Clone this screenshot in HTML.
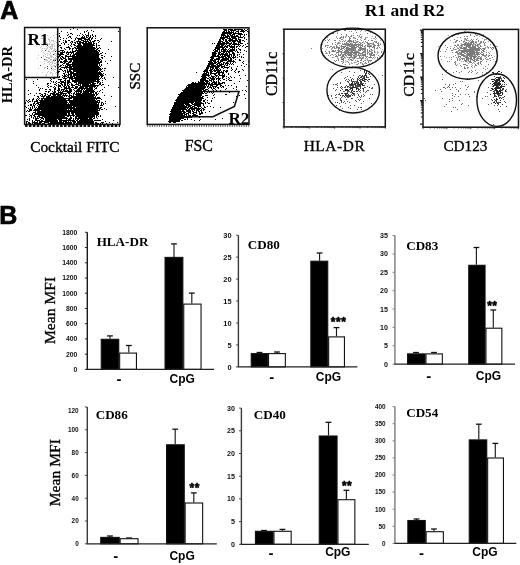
<!DOCTYPE html>
<html><head><meta charset="utf-8"><title>Figure</title>
<style>html,body{margin:0;padding:0;background:#fff;} svg{display:block;}</style>
</head><body>
<svg width="520" height="565" viewBox="0 0 520 565">
<rect width="520" height="565" fill="#fff"/>
<path d="M73 28h1M70 29h1M77 29h1M87 30h1M91 30h1M61 31h1M84 31h1M86 31h1M93 31h1M118 31h1M67 32h1M84 32h1M88 32h1M59 33h1M70 33h2M80 33h1M88 33h1M68 34h1M72 34h1M82 34h1M85 34h1M88 34h1M92 34h1M59 35h1M67 35h1M77 35h1M79 35h1M83 35h1M86 35h3M90 35h1M92 35h1M95 35h1M59 36h1M69 36h2M82 36h1M84 36h1M86 36h1M88 36h1M90 36h1M93 36h1M95 36h1M60 37h1M68 37h1M70 37h1M76 37h1M81 37h4M86 37h2M89 37h2M92 37h1M63 38h1M66 38h1M71 38h1M75 38h1M77 38h9M88 38h2M91 38h2M95 38h1M101 38h1M60 39h1M75 39h1M78 39h4M84 39h6M91 39h1M100 39h1M63 40h1M65 40h1M68 40h2M74 40h1M78 40h1M81 40h3M85 40h1M87 40h1M89 40h2M94 40h2M97 40h2M59 41h1M65 41h2M71 41h2M76 41h5M83 41h6M90 41h1M92 41h3M99 41h1M111 41h1M63 42h1M65 42h2M70 42h1M72 42h1M74 42h2M77 42h1M79 42h5M85 42h2M88 42h4M93 42h1M98 42h1M61 43h1M64 43h1M71 43h1M75 43h1M77 43h4M82 43h10M93 43h2M96 43h1M58 44h1M64 44h1M68 44h1M71 44h1M73 44h2M78 44h3M83 44h11M96 44h1M59 45h2M70 45h1M74 45h2M77 45h5M83 45h12M96 45h1M98 45h2M58 46h1M68 46h1M71 46h1M76 46h17M96 46h1M60 47h2M66 47h4M74 47h2M77 47h18M96 47h1M99 47h1M61 48h1M64 48h1M69 48h2M72 48h2M75 48h21M97 48h2M100 48h1M65 49h1M69 49h1M72 49h1M76 49h1M78 49h17M96 49h2M108 49h1M60 50h4M72 50h1M75 50h22M98 50h2M55 51h1M58 51h2M62 51h1M64 51h1M67 51h1M70 51h1M72 51h4M77 51h21M99 51h1M60 52h5M66 52h8M76 52h23M102 52h1M58 53h1M60 53h3M66 53h1M68 53h1M71 53h1M73 53h1M75 53h24M100 53h2M105 53h1M58 54h6M67 54h2M70 54h1M73 54h27M59 55h2M65 55h2M70 55h1M72 55h3M76 55h23M101 55h2M58 56h2M61 56h2M65 56h34M104 56h1M111 56h1M58 57h1M60 57h1M62 57h2M65 57h1M68 57h1M72 57h27M101 57h2M60 58h2M63 58h3M68 58h32M102 58h1M59 59h1M61 59h2M65 59h2M68 59h33M55 60h1M59 60h1M64 60h3M70 60h2M73 60h27M101 60h1M110 60h1M58 61h1M60 61h2M63 61h5M69 61h3M73 61h26M100 61h2M105 61h1M60 62h3M64 62h2M68 62h3M72 62h30M63 63h2M66 63h3M72 63h28M107 63h1M58 64h1M62 64h1M66 64h32M99 64h1M101 64h1M60 65h2M63 65h1M65 65h1M67 65h4M72 65h26M99 65h1M101 65h1M59 66h2M65 66h3M69 66h30M100 66h1M58 67h1M61 67h11M73 67h27M60 68h1M64 68h1M66 68h1M69 68h32M102 68h1M104 68h2M59 69h3M67 69h1M69 69h33M62 70h1M64 70h2M67 70h1M69 70h2M73 70h26M100 70h1M104 70h1M58 71h2M63 71h1M65 71h1M67 71h5M73 71h25M99 71h1M101 71h2M58 72h1M65 72h1M67 72h2M70 72h4M76 72h25M63 73h2M68 73h1M70 73h32M103 73h1M64 74h1M66 74h1M68 74h4M73 74h30M105 74h1M62 75h1M64 75h2M67 75h2M70 75h2M73 75h26M100 75h4M59 76h1M63 76h4M68 76h1M70 76h5M76 76h24M101 76h2M46 77h1M58 77h2M62 77h1M64 77h1M67 77h6M74 77h25M101 77h1M104 77h1M113 77h1M50 78h1M53 78h2M63 78h4M69 78h30M100 78h1M102 78h1M104 78h1M26 79h1M37 79h1M51 79h1M58 79h4M65 79h1M69 79h1M71 79h2M75 79h25M105 79h1M50 80h1M60 80h1M64 80h2M67 80h3M72 80h24M97 80h2M102 80h1M33 81h1M51 81h1M53 81h1M56 81h1M60 81h4M65 81h1M67 81h3M72 81h28M53 82h1M55 82h1M58 82h2M61 82h5M67 82h4M74 82h3M78 82h16M97 82h2M100 82h1M102 82h1M33 83h1M47 83h2M50 83h1M56 83h1M60 83h2M64 83h2M67 83h2M71 83h1M76 83h1M78 83h13M92 83h4M97 83h1M99 83h2M47 84h1M54 84h2M58 84h1M61 84h2M64 84h2M67 84h1M69 84h1M71 84h2M75 84h4M80 84h1M82 84h7M90 84h5M99 84h2M102 84h2M36 85h1M48 85h1M56 85h1M58 85h3M62 85h1M64 85h2M67 85h2M71 85h4M78 85h3M82 85h17M101 85h1M108 85h1M47 86h1M50 86h2M54 86h1M58 86h3M63 86h2M66 86h1M68 86h2M72 86h1M75 86h3M80 86h16M97 86h1M38 87h1M48 87h1M53 87h1M55 87h1M58 87h1M61 87h1M64 87h3M68 87h2M71 87h3M75 87h3M79 87h5M85 87h3M89 87h4M94 87h1M96 87h1M104 87h1M118 87h1M40 88h1M42 88h1M54 88h2M58 88h2M64 88h7M74 88h3M78 88h15M95 88h2M39 89h1M45 89h2M49 89h2M54 89h2M58 89h2M61 89h4M66 89h1M69 89h3M73 89h1M77 89h3M81 89h2M84 89h1M86 89h7M94 89h1M102 89h1M28 90h1M39 90h1M50 90h1M54 90h1M57 90h3M61 90h1M63 90h1M65 90h3M69 90h3M74 90h1M76 90h6M83 90h1M85 90h9M100 90h1M45 91h2M48 91h2M52 91h1M54 91h2M58 91h1M60 91h1M62 91h10M75 91h7M83 91h12M97 91h1M99 91h1M48 92h1M53 92h3M58 92h5M67 92h4M74 92h1M76 92h1M78 92h1M80 92h2M83 92h6M90 92h4M95 92h2M102 92h1M30 93h1M36 93h1M39 93h2M44 93h2M50 93h5M56 93h3M60 93h7M68 93h2M71 93h1M73 93h2M76 93h5M82 93h10M93 93h1M95 93h2M98 93h1M28 94h1M41 94h2M45 94h1M47 94h1M50 94h1M52 94h10M63 94h1M65 94h1M69 94h1M73 94h1M75 94h20M96 94h2M34 95h1M40 95h1M42 95h1M44 95h2M48 95h3M53 95h3M57 95h4M62 95h6M69 95h3M73 95h1M76 95h19M96 95h1M104 95h1M37 96h2M41 96h4M46 96h4M51 96h12M64 96h1M66 96h1M68 96h2M71 96h23M95 96h1M111 96h1M38 97h1M43 97h1M46 97h18M69 97h27M97 97h3M33 98h1M37 98h1M39 98h1M41 98h31M73 98h28M29 99h1M32 99h2M36 99h1M38 99h1M41 99h2M44 99h22M68 99h2M73 99h22M96 99h1M101 99h1M26 100h1M28 100h1M32 100h1M36 100h2M39 100h57M97 100h3M27 101h1M29 101h2M32 101h1M34 101h4M40 101h27M69 101h29M99 101h1M105 101h1M25 102h1M28 102h1M34 102h1M37 102h31M69 102h31M101 102h2M25 103h1M33 103h2M36 103h3M40 103h27M68 103h1M70 103h27M98 103h1M101 103h1M103 103h1M105 103h1M30 104h2M33 104h1M35 104h1M38 104h61M101 104h1M103 104h1M28 105h1M30 105h2M33 105h2M37 105h1M39 105h60M100 105h3M25 106h1M32 106h1M34 106h1M38 106h34M73 106h26M115 106h1M26 107h1M30 107h1M32 107h1M34 107h1M36 107h1M38 107h37M76 107h23M100 107h2M28 108h1M30 108h1M32 108h1M35 108h1M37 108h64M104 108h1M29 109h3M34 109h33M68 109h1M70 109h2M73 109h25M99 109h1M101 109h2M106 109h1M27 110h1M29 110h3M33 110h7M41 110h59M26 111h1M28 111h2M35 111h1M37 111h61M33 112h3M37 112h33M71 112h28M32 113h1M35 113h32M68 113h2M71 113h3M75 113h24M29 114h1M32 114h1M34 114h33M68 114h2M72 114h2M75 114h24M25 115h2M30 115h2M33 115h2M38 115h37M76 115h19M96 115h2M100 115h1M29 116h1M31 116h1M34 116h2M37 116h3M42 116h23M67 116h2M70 116h1M73 116h1M75 116h20M96 116h1M98 116h1M100 116h1M31 117h1M33 117h1M35 117h1M37 117h1M39 117h4M44 117h23M70 117h2M75 117h2M78 117h15M94 117h1M96 117h1M29 118h1M33 118h1M35 118h4M41 118h3M45 118h23M69 118h3M73 118h1M75 118h13M89 118h3M93 118h2M97 118h1M27 119h1M29 119h1M35 119h2M40 119h1M43 119h1M45 119h12M58 119h4M66 119h1M68 119h3M73 119h1M75 119h1M77 119h2M80 119h13M102 119h1M29 120h1M32 120h1M35 120h5M41 120h2M45 120h13M59 120h16M76 120h2M79 120h14M94 120h7M113 120h1M26 121h2M32 121h1M34 121h1M37 121h1M39 121h19M59 121h3M63 121h4M68 121h1M70 121h1M72 121h4M77 121h17M105 121h1M26 122h1M28 122h2M32 122h6M39 122h3M44 122h5M50 122h14M65 122h7M73 122h3M77 122h17M95 122h2M101 122h3M109 122h1M117 122h1M26 123h1M28 123h3M32 123h1M34 123h7M42 123h3M48 123h24M73 123h2M76 123h18M95 123h4M100 123h1M102 123h1M106 123h1M112 123h1" stroke="#000" stroke-width="1" fill="none" transform="translate(0 0.5)"/>
<path d="M47 45h1M45 50h1M53 54h1M41 57h1M44 59h1M53 60h1M40 65h1M47 66h1M55 66h1M47 68h1M51 68h1" stroke="#333" stroke-width="1" fill="none" transform="translate(0 0.5)"/>
<path d="M42 29h1M56 34h1M47 35h1M53 35h1M45 36h1M50 37h1M54 37h1M41 38h2M48 38h1M48 39h2M49 40h1M51 40h3M49 41h1M53 41h1M55 41h1M46 42h1M50 42h1M56 42h1M46 43h2M49 43h1M54 43h1M48 44h2M51 44h3M39 45h1M43 45h1M51 45h2M54 45h1M36 46h1M41 46h1M46 46h1M48 46h1M50 46h3M54 46h1M40 47h1M47 47h1M49 47h2M52 47h1M42 48h1M44 48h1M46 48h2M50 48h3M54 48h1M41 49h1M46 49h1M49 49h1M51 49h1M54 49h2M42 50h1M48 50h1M53 50h2M56 50h1M41 51h1M48 51h2M52 51h2M43 52h1M50 52h1M44 53h1M47 53h1M50 53h1M54 53h2M45 54h1M49 54h1M54 54h1M56 54h1M38 55h1M43 55h1M47 55h1M50 55h2M55 55h1M43 56h1M45 56h1M50 56h3M56 56h1M46 57h4M51 57h1M53 57h1M55 57h1M37 58h1M48 58h2M54 58h3M45 59h2M50 59h2M53 59h4M45 60h3M50 60h1M54 60h1M44 61h1M48 61h2M52 61h1M54 61h1M47 62h2M50 62h3M56 62h1M44 63h1M49 63h1M52 63h1M54 63h2M43 64h1M49 64h1M51 64h1M56 64h1M50 65h1M53 65h2M56 65h1M51 66h2M54 66h1M44 67h2M51 67h1M55 67h1M38 68h1M44 68h1M53 68h1M49 69h1M52 69h1M54 69h2M51 70h1M53 70h1M48 71h1M54 71h1M42 72h1M47 72h1M50 72h2M56 72h1M50 73h1M52 73h1M55 73h1M46 74h1M52 74h1M45 75h2M52 75h1M54 76h1" stroke="#c4c4c4" stroke-width="1" fill="none" transform="translate(0 0.5)"/>
<path d="M223 29h4M228 29h5M234 29h9M244 29h1M247 29h1M224 30h3M228 30h1M230 30h6M238 30h1M241 30h3M245 30h2M223 31h2M226 31h1M228 31h2M231 31h1M233 31h1M236 31h3M240 31h5M247 31h2M222 32h12M235 32h1M238 32h1M243 32h1M248 32h1M222 33h10M233 33h9M248 33h1M221 34h4M227 34h1M229 34h2M232 34h3M238 34h5M244 34h1M246 34h1M221 35h5M227 35h2M230 35h3M234 35h1M236 35h2M240 35h1M244 35h1M248 35h1M221 36h1M223 36h1M225 36h5M231 36h8M240 36h1M243 36h1M248 36h1M220 37h8M229 37h1M231 37h5M238 37h5M244 37h1M220 38h5M227 38h4M232 38h5M238 38h1M244 38h1M219 39h2M222 39h2M225 39h2M229 39h4M235 39h2M238 39h3M246 39h1M219 40h2M223 40h1M225 40h2M228 40h10M239 40h2M242 40h2M218 41h5M225 41h3M229 41h2M232 41h4M237 41h4M244 41h1M218 42h3M222 42h3M226 42h3M231 42h1M233 42h2M238 42h3M212 43h1M214 43h1M217 43h15M233 43h4M238 43h1M240 43h3M247 43h1M217 44h8M226 44h1M229 44h2M232 44h8M245 44h1M216 45h4M221 45h3M225 45h1M227 45h3M231 45h1M234 45h1M238 45h1M240 45h1M243 45h1M216 46h7M224 46h4M229 46h6M236 46h2M239 46h1M242 46h1M246 46h2M215 47h10M226 47h2M230 47h5M236 47h1M245 47h1M215 48h5M222 48h2M225 48h1M229 48h1M232 48h1M234 48h1M238 48h1M214 49h2M217 49h3M221 49h6M228 49h1M230 49h5M236 49h1M239 49h2M213 50h1M215 50h3M219 50h1M221 50h1M223 50h3M227 50h1M229 50h6M236 50h1M240 50h1M244 50h1M214 51h4M219 51h1M221 51h12M235 51h1M237 51h1M246 51h1M212 52h4M218 52h3M223 52h2M226 52h1M228 52h2M232 52h2M237 52h2M240 52h1M212 53h5M218 53h2M221 53h3M225 53h3M229 53h1M232 53h3M212 54h4M218 54h10M229 54h3M233 54h2M237 54h1M239 54h1M243 54h1M212 55h4M217 55h2M220 55h1M222 55h1M224 55h6M231 55h1M233 55h2M237 55h1M211 56h9M221 56h5M227 56h3M231 56h1M233 56h1M235 56h1M239 56h1M241 56h1M210 57h4M218 57h6M225 57h2M228 57h3M232 57h4M237 57h1M241 57h1M243 57h1M211 58h3M216 58h4M222 58h7M230 58h2M233 58h1M210 59h3M214 59h6M221 59h8M230 59h2M235 59h1M239 59h1M210 60h6M218 60h1M220 60h7M228 60h4M233 60h1M239 60h2M208 61h4M213 61h3M217 61h2M220 61h3M227 61h8M243 61h1M248 61h1M209 62h4M214 62h3M218 62h3M223 62h2M226 62h2M230 62h1M233 62h1M235 62h1M242 62h1M208 63h8M217 63h3M221 63h1M223 63h1M225 63h4M230 63h1M232 63h1M243 63h1M208 64h6M216 64h2M219 64h5M225 64h1M227 64h1M229 64h1M231 64h1M233 64h1M246 64h1M207 65h3M211 65h5M217 65h5M224 65h1M226 65h2M241 65h1M207 66h13M221 66h4M229 66h1M237 66h1M244 66h1M248 66h1M206 67h3M210 67h4M215 67h4M221 67h2M224 67h5M231 67h1M206 68h3M210 68h1M212 68h2M215 68h3M219 68h1M223 68h1M227 68h1M231 68h1M236 68h1M205 69h3M210 69h3M214 69h1M216 69h3M220 69h1M232 69h1M236 69h1M242 69h1M204 70h4M209 70h3M213 70h8M223 70h2M226 70h2M231 70h1M235 70h1M243 70h1M203 71h5M210 71h3M214 71h2M217 71h3M221 71h1M223 71h1M225 71h3M234 71h1M238 71h2M196 72h1M204 72h1M206 72h3M210 72h2M216 72h8M226 72h1M235 72h1M238 72h1M203 73h4M208 73h1M210 73h7M218 73h2M222 73h2M228 73h1M202 74h7M210 74h1M214 74h2M218 74h2M222 74h1M224 74h1M228 74h1M202 75h8M211 75h1M215 75h3M219 75h6M239 75h1M245 75h1M201 76h5M208 76h1M211 76h4M216 76h1M218 76h1M222 76h3M226 76h1M230 76h1M202 77h5M209 77h2M212 77h2M215 77h1M218 77h1M222 77h2M228 77h1M231 77h1M234 77h1M201 78h5M207 78h2M210 78h5M216 78h5M222 78h1M226 78h1M229 78h1M240 78h1M200 79h6M209 79h1M211 79h4M216 79h1M218 79h2M223 79h2M228 79h1M200 80h8M209 80h3M213 80h1M218 80h1M220 80h1M226 80h1M229 80h3M247 80h1M198 81h1M200 81h4M205 81h4M211 81h1M213 81h2M216 81h1M218 81h1M239 81h1M192 82h2M195 82h1M198 82h7M206 82h2M209 82h1M212 82h5M218 82h2M222 82h3M191 83h19M211 83h2M214 83h3M218 83h5M224 83h1M234 83h1M188 84h19M208 84h13M187 85h18M206 85h1M208 85h1M210 85h3M216 85h2M220 85h2M225 85h1M228 85h1M231 85h1M186 86h1M188 86h18M207 86h2M210 86h1M212 86h5M220 86h1M222 86h2M236 86h1M246 86h1M186 87h20M207 87h1M209 87h3M213 87h1M215 87h1M217 87h2M221 87h1M223 87h1M236 87h1M185 88h20M208 88h1M211 88h1M213 88h2M218 88h1M226 88h1M233 88h1M184 89h20M205 89h3M212 89h1M215 89h1M225 89h1M236 89h1M182 90h20M203 90h3M208 90h1M213 90h1M216 90h1M220 90h1M242 90h1M245 90h1M183 91h22M208 91h1M214 91h1M246 91h1M181 92h22M204 92h1M207 92h1M209 92h1M211 92h1M213 92h1M229 92h1M180 93h24M205 93h2M212 93h1M178 94h24M214 94h1M225 94h2M244 94h1M179 95h23M205 95h3M213 95h1M239 95h1M178 96h23M202 96h2M236 96h1M177 97h26M207 97h1M214 97h1M177 98h27M212 98h1M245 98h1M176 99h26M205 99h1M175 100h27M203 100h2M207 100h1M211 100h1M176 101h25M203 101h2M211 101h1M174 102h20M195 102h7M205 102h1M207 102h1M233 102h1M174 103h15M191 103h2M194 103h10M205 103h1M208 103h2M174 104h10M185 104h5M192 104h9M203 104h1M173 105h12M186 105h6M194 105h7M203 105h1M173 106h14M188 106h3M192 106h3M197 106h4M204 106h1M207 106h1M210 106h1M172 107h17M190 107h3M194 107h3M198 107h1M201 107h1M204 107h2M213 107h1M220 107h1M172 108h14M187 108h1M189 108h12M202 108h2M171 109h16M188 109h2M191 109h4M196 109h4M201 109h1M203 109h2M171 110h10M182 110h2M186 110h5M192 110h1M194 110h1M196 110h3M200 110h2M203 110h1M170 111h15M186 111h5M192 111h2M196 111h1M198 111h2M201 111h1M209 111h1M171 112h11M183 112h3M188 112h3M193 112h4M199 112h1M201 112h2M205 112h1M170 113h15M186 113h3M190 113h1M192 113h2M196 113h1M199 113h4M169 114h14M184 114h3M188 114h1M193 114h3M199 114h2M170 115h15M186 115h1M188 115h3M192 115h6M169 116h14M185 116h1M188 116h1M191 116h1M193 116h1M204 116h1M169 117h23M199 117h1M169 118h15M187 118h1M222 118h1M169 119h12M184 119h2M187 119h1M191 119h1M200 119h1M215 119h1M169 120h11M181 120h2M194 120h1M199 120h1M168 121h12M169 122h2M173 122h3" stroke="#000" stroke-width="1" fill="none" transform="translate(0 0.5)"/>
<path d="M364 71h1M369 71h1M366 72h1M365 73h2M368 73h1M371 73h1M365 74h1M369 74h1M362 75h1M365 75h2M361 76h1M364 76h1M366 76h1M360 77h2M364 77h1M366 77h1M357 78h1M359 78h1M362 78h3M351 79h1M362 79h1M364 79h3M369 79h1M351 80h1M357 80h1M359 80h1M362 80h2M347 81h1M353 81h1M357 81h1M360 81h2M364 81h1M352 82h1M356 82h1M358 82h1M361 82h1M351 83h2M355 83h1M358 83h1M360 83h2M350 84h3M354 84h2M357 84h3M361 84h2M351 85h1M355 85h1M359 85h2M362 85h3M347 86h2M353 86h1M358 86h1M360 86h1M349 87h1M352 87h4M369 87h1M350 88h3M356 88h2M363 88h1M345 89h3M352 89h1M356 89h1M358 89h1M340 90h1M345 90h1M347 90h2M352 90h1M351 91h1M354 91h1M356 91h1M352 92h1M342 93h1M345 93h3M352 93h2M345 94h1M348 94h1M340 95h1M343 95h1M345 95h1M347 95h1M350 95h1M352 95h1M344 96h1M349 96h1M351 98h1M341 100h1M337 102h1" stroke="#2a2a2a" stroke-width="1" fill="none" transform="translate(0 0.5)"/>
<path d="M360 70h1M364 70h1M349 71h1M366 71h1M341 72h1M354 72h1M364 72h1M353 75h1M359 75h2M364 75h1M382 75h1M347 76h1M358 76h1M362 76h2M370 76h1M345 77h1M350 77h1M358 77h1M363 77h1M367 77h2M344 78h1M352 78h1M346 79h1M348 79h1M353 79h1M357 79h2M360 79h2M368 79h1M345 80h1M349 80h1M360 80h1M364 80h1M367 80h1M348 81h1M351 81h2M354 81h3M365 81h1M368 81h1M340 82h1M348 82h1M354 82h1M357 82h1M360 82h1M337 83h1M340 83h1M349 83h1M354 83h1M356 83h2M362 83h2M365 83h1M333 84h1M335 84h2M349 84h1M353 84h1M360 84h1M374 84h1M337 85h1M346 85h1M349 85h2M352 85h2M356 85h3M341 86h1M345 86h1M350 86h1M352 86h1M355 86h3M359 86h1M367 86h1M337 87h1M340 87h1M342 87h1M344 87h2M347 87h1M350 87h2M356 87h2M360 87h1M364 87h2M372 87h1M333 88h1M341 88h1M358 88h1M360 88h1M362 88h1M371 88h2M336 89h1M342 89h1M349 89h2M359 89h1M363 89h1M335 90h1M346 90h1M351 90h1M358 90h1M360 90h1M363 90h1M367 90h2M343 91h2M347 91h3M353 91h1M357 91h1M359 91h1M363 91h1M366 91h1M347 92h1M350 92h2M360 92h1M365 92h1M339 93h1M341 93h1M344 93h1M354 93h1M357 93h1M336 94h1M338 94h2M346 94h1M351 94h1M353 94h2M358 94h1M363 94h1M370 94h1M372 94h1M328 95h1M331 95h1M335 95h1M342 95h1M346 95h1M348 95h2M354 95h1M358 95h1M361 95h1M364 95h1M331 96h1M342 96h1M346 96h3M350 96h1M359 96h1M361 96h1M363 96h1M335 97h2M341 97h1M345 97h1M347 97h2M357 97h1M360 97h1M332 98h1M340 98h1M352 98h1M369 98h1M340 99h1M346 99h1M358 99h1M360 99h1M340 100h1M355 100h1M359 100h1M341 101h1M344 101h1M347 101h1M356 101h1M363 101h1M335 102h1M341 102h1M343 102h1M349 102h1M339 103h1M345 103h1M361 103h1M371 103h1M336 105h1M350 105h1M354 105h1M340 106h1M335 107h1M348 107h1M358 107h1M360 107h2M342 108h1M350 108h1M357 109h1M361 109h1M339 110h1" stroke="#555" stroke-width="1" fill="none" transform="translate(0 0.5)"/>
<path d="M344 30h2M355 30h1M361 30h1M351 31h1M356 32h1M370 32h1M332 33h2M337 33h1M367 33h1M341 34h1M346 34h1M360 34h1M346 35h1M351 35h1M353 35h1M357 35h1M343 36h1M348 36h1M351 36h1M359 36h1M361 36h1M375 36h1M327 37h1M340 37h2M343 37h1M345 37h1M349 37h1M353 37h1M360 37h1M375 37h1M337 38h1M339 38h2M349 38h2M355 38h1M365 38h1M329 39h1M341 39h2M349 39h1M357 39h1M364 39h1M325 40h1M328 40h1M334 40h2M339 40h1M345 40h1M348 40h3M353 40h1M355 40h1M361 40h1M368 40h1M371 40h2M340 41h1M342 41h1M344 41h1M347 41h5M353 41h1M357 41h1M365 41h1M374 41h1M376 41h1M327 42h1M335 42h1M338 42h1M346 42h1M349 42h1M353 42h4M359 42h1M362 42h1M366 42h2M376 42h1M332 43h1M337 43h2M342 43h1M344 43h1M346 43h3M350 43h1M355 43h1M360 43h1M364 43h1M367 43h2M370 43h2M373 43h1M377 43h2M335 44h1M343 44h3M347 44h6M354 44h7M362 44h1M368 44h2M373 44h1M378 44h1M380 44h1M325 45h1M327 45h1M336 45h1M341 45h1M346 45h4M351 45h6M358 45h1M361 45h2M365 45h1M367 45h1M370 45h1M374 45h2M377 45h2M325 46h1M330 46h2M336 46h1M341 46h5M349 46h6M357 46h2M360 46h1M362 46h1M364 46h1M367 46h5M373 46h2M327 47h1M329 47h1M332 47h1M334 47h1M336 47h4M341 47h1M343 47h2M346 47h3M351 47h6M359 47h3M369 47h1M372 47h1M374 47h1M377 47h1M379 47h1M311 48h1M334 48h1M338 48h2M341 48h3M346 48h10M359 48h7M374 48h1M377 48h1M338 49h1M340 49h2M344 49h1M346 49h8M355 49h1M358 49h1M360 49h6M367 49h1M371 49h1M332 50h2M335 50h1M338 50h2M342 50h1M345 50h3M349 50h1M351 50h5M358 50h3M364 50h2M367 50h1M369 50h1M372 50h1M325 51h1M329 51h1M332 51h3M338 51h4M344 51h5M351 51h2M355 51h3M363 51h2M367 51h1M369 51h2M374 51h1M381 51h1M329 52h1M336 52h3M341 52h1M343 52h17M362 52h2M365 52h1M368 52h1M371 52h2M374 52h1M381 52h1M326 53h1M329 53h1M341 53h1M345 53h2M348 53h1M350 53h2M353 53h4M359 53h4M365 53h1M367 53h1M369 53h1M371 53h2M332 54h1M335 54h1M338 54h1M340 54h1M343 54h3M347 54h6M355 54h2M358 54h1M362 54h4M369 54h3M373 54h2M328 55h1M330 55h1M336 55h1M338 55h3M342 55h2M345 55h2M348 55h4M353 55h2M358 55h3M362 55h4M370 55h5M378 55h1M381 55h1M335 56h3M342 56h2M351 56h1M354 56h3M359 56h1M365 56h1M367 56h1M370 56h1M332 57h1M341 57h1M344 57h1M347 57h1M349 57h2M352 57h1M354 57h2M359 57h2M362 57h2M366 57h1M369 57h3M373 57h1M377 57h1M341 58h1M343 58h1M349 58h1M354 58h1M357 58h1M361 58h2M365 58h1M377 58h1M338 59h1M341 59h3M348 59h1M350 59h2M353 59h1M361 59h1M334 60h1M336 60h1M338 60h1M343 60h1M351 60h2M355 60h1M360 60h2M365 60h1M369 60h3M335 61h1M341 61h1M347 61h1M357 61h2M363 61h1M368 61h1M333 62h1M343 62h1M348 62h1M354 62h1M360 62h1M365 62h1M368 62h1M342 63h1M358 63h1M362 63h1M366 63h1M345 64h1M349 64h1M357 64h1M362 64h1M363 65h1M332 69h1" stroke="#7a7a7a" stroke-width="1" fill="none" transform="translate(0 0.5)"/>
<path d="M349 31h1M360 31h1M365 31h1M337 32h1M353 33h1M359 35h1M336 36h1M341 36h1M345 36h2M350 36h1M372 36h1M336 37h1M342 37h1M354 37h1M358 37h1M361 37h1M365 37h3M343 38h1M353 38h2M361 38h1M371 38h1M373 38h2M376 38h1M327 39h1M360 39h1M365 39h1M375 39h1M343 40h1M351 40h1M380 40h1M352 41h1M356 41h1M358 41h1M363 41h1M375 41h1M339 42h1M351 42h1M357 42h1M360 42h1M363 42h1M373 42h1M375 42h1M378 42h1M339 43h2M345 43h1M351 43h2M358 43h1M361 43h1M369 43h1M372 43h1M380 43h1M322 44h1M332 44h1M337 44h1M342 44h1M346 44h1M353 44h1M367 44h1M372 44h1M374 44h1M326 45h1M328 45h1M339 45h1M345 45h1M350 45h1M359 45h2M368 45h2M371 45h1M373 45h1M379 45h1M333 46h2M337 46h1M340 46h1M347 46h1M356 46h1M365 46h1M378 46h1M333 47h1M358 47h1M364 47h2M373 47h1M322 48h1M331 48h2M335 48h2M345 48h1M369 48h1M376 48h1M380 48h1M326 49h1M331 49h1M354 49h1M359 49h1M370 49h1M374 49h1M382 49h1M337 50h1M348 50h1M350 50h1M362 50h1M371 50h1M374 50h1M328 51h1M331 51h1M335 51h1M350 51h1M354 51h1M358 51h1M365 51h1M371 51h1M377 51h1M326 52h1M340 52h1M342 52h1M364 52h1M367 52h1M375 52h1M377 52h2M325 53h1M327 53h1M336 53h1M338 53h1M344 53h1M347 53h1M349 53h1M358 53h1M370 53h1M377 53h1M331 54h1M341 54h2M354 54h1M360 54h1M367 54h1M376 54h1M324 55h1M333 55h1M355 55h3M361 55h1M341 56h1M344 56h1M346 56h1M350 56h1M353 56h1M361 56h1M363 56h1M366 56h1M374 56h1M379 56h1M381 56h2M333 57h1M337 57h1M340 57h1M342 57h1M345 57h1M348 57h1M351 57h1M353 57h1M368 57h1M375 57h1M337 58h2M342 58h1M345 58h1M352 58h2M356 58h1M358 58h3M363 58h1M367 58h1M372 58h1M374 58h1M366 59h2M345 60h1M349 60h1M357 60h1M364 60h1M367 60h2M375 60h1M342 61h2M346 61h1M370 61h1M331 62h1M345 62h1M351 62h1M355 62h2M361 62h1M372 62h1M349 63h1M351 63h2M360 63h1M364 63h2M369 63h1M356 64h1M363 64h1M368 64h1M352 66h1M355 66h1" stroke="#aaaaaa" stroke-width="1" fill="none" transform="translate(0 0.5)"/>
<path d="M498 71h2M492 72h2M497 72h1M501 72h1M495 74h2M499 74h1M494 76h1M496 77h5M503 77h1M495 78h1M498 78h2M504 78h1M491 79h4M496 79h4M495 80h5M501 80h3M492 81h2M495 81h3M499 81h2M502 81h2M494 82h3M498 82h2M504 82h1M493 83h8M492 84h1M494 84h7M502 84h1M504 84h1M493 85h5M499 85h1M501 85h1M493 86h1M496 86h2M500 86h5M495 87h7M491 88h2M494 88h6M503 88h1M492 89h2M495 89h2M500 89h1M502 89h1M495 90h3M499 90h3M505 90h1M493 91h1M496 91h5M505 91h1M494 92h1M496 92h3M500 92h1M502 92h1M493 93h8M502 93h1M490 94h1M494 94h1M497 94h2M502 94h1M494 95h1M498 95h1M500 95h1M494 96h1M496 96h1M498 96h1M504 96h1M500 97h1M496 98h1M499 98h1M501 98h1M494 99h1M496 99h2M492 100h1M495 100h1M500 100h1M496 101h1M493 102h2M500 102h1M495 103h1M497 103h2M502 104h1" stroke="#262626" stroke-width="1" fill="none" transform="translate(0 0.5)"/>
<path d="M493 73h1M498 74h1M500 76h1M500 78h2M501 79h1M494 80h1M497 82h1M490 83h1M506 84h1M498 85h1M492 86h1M498 86h1M488 87h1M500 88h1M502 88h1M503 89h1M506 89h1M490 90h2M494 90h1M502 90h1M494 91h1M506 91h1M487 92h1M501 92h1M499 94h1M495 95h1M499 95h1M501 95h1M485 96h1M495 96h1M493 97h1M499 97h1M502 97h2M491 99h1M503 99h1M496 100h1M494 101h1M504 101h1M496 102h4M505 102h1M491 103h1M488 104h1M498 104h1M494 105h1M497 105h1M500 106h1M506 106h1M498 109h1M499 111h1M493 124h1" stroke="#555" stroke-width="1" fill="none" transform="translate(0 0.5)"/>
<path d="M446 70h1M456 71h1M442 74h1M467 78h1M442 79h1M469 79h1M478 80h1M460 81h1M462 81h1M455 83h1M445 84h1M449 84h1M453 84h1M449 85h1M465 85h1M448 86h1M468 86h1M443 87h2M447 87h1M449 87h1M452 87h1M455 87h1M467 87h1M445 88h1M460 88h1M440 89h1M450 89h1M456 89h1M466 89h1M435 90h1M458 90h1M441 91h1M458 91h1M474 91h1M474 92h1M452 93h1M455 94h1M460 94h1M465 94h1M468 94h1M452 95h1M454 96h1M458 96h1M469 96h1M476 96h1M487 96h1M424 98h1M442 98h1M452 98h1M482 98h1M449 99h1M425 100h1M452 100h1M459 100h1M449 101h1M462 103h1M446 104h1M461 104h1M468 105h1M444 106h1M453 107h1M455 107h1M457 109h1M451 111h1" stroke="#666" stroke-width="1" fill="none" transform="translate(0 0.5)"/>
<path d="M464 31h1M458 34h1M470 34h1M475 34h1M470 35h1M476 35h2M452 36h1M464 36h1M467 36h1M474 36h1M483 36h1M460 37h1M465 38h1M467 38h1M454 39h1M466 39h1M471 39h1M476 39h1M489 39h1M456 40h2M461 40h1M466 40h1M470 40h1M472 40h1M478 40h1M455 41h2M459 41h1M463 41h2M469 41h1M471 41h3M478 41h1M481 41h1M483 41h1M443 42h1M455 42h1M465 42h2M468 42h1M470 42h4M475 42h2M480 42h2M483 42h1M485 42h1M464 43h2M467 43h2M470 43h2M473 43h1M479 43h2M484 43h1M462 44h11M475 44h1M477 44h3M490 44h1M445 45h1M454 45h2M457 45h2M460 45h2M464 45h1M466 45h5M472 45h1M475 45h1M477 45h1M480 45h1M484 45h1M456 46h1M461 46h1M466 46h5M472 46h4M477 46h1M480 46h1M487 46h1M447 47h1M454 47h1M460 47h2M463 47h4M468 47h8M478 47h2M485 47h1M488 47h1M490 47h1M492 47h2M450 48h1M453 48h1M458 48h1M460 48h7M470 48h9M480 48h1M482 48h3M491 48h1M493 48h1M446 49h1M455 49h1M459 49h1M464 49h2M467 49h13M481 49h1M484 49h1M492 49h1M451 50h2M458 50h16M475 50h5M482 50h2M440 51h1M445 51h1M456 51h1M461 51h14M476 51h1M483 51h2M452 52h1M455 52h3M459 52h1M461 52h4M466 52h2M469 52h11M481 52h2M486 52h1M457 53h2M460 53h2M464 53h2M467 53h8M476 53h3M480 53h1M483 53h1M489 53h1M460 54h4M466 54h9M476 54h4M481 54h3M486 54h1M455 55h1M461 55h4M467 55h6M474 55h2M477 55h1M483 55h2M486 55h1M489 55h1M491 55h1M440 56h1M453 56h1M458 56h3M463 56h2M466 56h2M469 56h8M478 56h2M485 56h1M488 56h1M451 57h1M456 57h1M458 57h1M460 57h1M465 57h4M470 57h2M473 57h3M480 57h1M486 57h1M492 57h1M457 58h1M461 58h4M466 58h6M473 58h2M477 58h5M485 58h1M489 58h1M451 59h1M457 59h1M460 59h1M462 59h1M466 59h1M468 59h1M470 59h3M474 59h1M477 59h1M480 59h2M483 59h1M486 59h2M457 60h1M459 60h1M464 60h3M468 60h1M470 60h1M473 60h2M476 60h3M490 60h1M447 61h1M449 61h1M455 61h1M465 61h2M469 61h2M474 61h2M480 61h2M486 61h1M495 61h1M454 62h1M470 62h2M473 62h1M478 62h1M480 62h1M455 63h1M477 63h2M480 63h1M455 64h1M463 64h3M475 64h1M478 64h1M481 64h1M488 64h1M456 65h1M460 65h1M466 65h2M475 65h2M441 66h1M471 66h1M485 66h1M464 67h1M467 67h2M464 68h2M483 68h1M487 68h1M485 69h1M471 70h1M475 70h1M461 71h1M469 71h1M472 71h1M453 72h1M459 72h1M468 72h1M471 72h1M477 72h1M482 72h1M486 72h1M476 73h1M482 74h1M459 78h1M470 78h1" stroke="#7a7a7a" stroke-width="1" fill="none" transform="translate(0 0.5)"/>
<path d="M465 30h1M458 33h1M479 34h1M483 34h1M448 35h1M453 35h1M466 36h1M479 36h1M484 36h1M457 37h1M464 38h1M477 38h1M482 38h1M487 38h1M464 39h2M473 39h1M484 39h3M450 40h1M464 40h1M467 40h2M484 40h1M475 41h2M480 41h1M488 41h1M453 42h1M463 42h1M461 43h1M466 43h1M469 43h1M474 43h1M476 43h1M457 44h2M461 44h1M473 44h2M484 44h1M462 45h1M465 45h1M473 45h1M476 45h1M478 45h1M485 45h1M493 45h1M438 46h1M450 46h1M459 46h1M462 46h1M478 46h1M481 46h1M496 46h2M457 47h1M459 47h1M487 47h1M457 48h1M469 48h1M479 48h1M485 48h1M488 48h1M453 49h2M456 49h1M463 49h1M466 49h1M483 49h1M474 50h1M486 50h1M457 51h2M477 51h1M481 51h1M490 51h1M460 52h1M488 52h1M459 53h1M457 54h3M475 54h1M458 55h1M465 55h2M482 55h1M485 55h1M488 55h1M444 56h1M465 56h1M481 56h1M484 56h1M494 56h1M446 57h1M449 57h1M477 57h2M481 57h1M459 58h1M476 58h1M490 58h1M441 59h1M459 59h1M464 59h1M467 59h1M475 59h2M488 59h1M493 59h1M467 60h1M472 60h1M482 60h1M461 61h1M463 61h1M468 61h1M455 62h1M467 62h1M469 62h1M459 63h1M468 63h1M472 63h1M474 63h1M457 64h1M471 64h1M472 65h1M461 66h1M464 66h1M474 66h1M472 67h1M474 67h1M492 67h1M467 68h1" stroke="#a5a5a5" stroke-width="1" fill="none" transform="translate(0 0.5)"/>
<rect x="24.6" y="27.5" width="95.4" height="96.9" fill="none" stroke="#111" stroke-width="1.5"/>
<path d="M24.6 77.5H57.7V27.5" fill="none" stroke="#111" stroke-width="1.5"/>
<path d="M25 125.8H120" fill="none" stroke="#111" stroke-width="2.2" stroke-dasharray="2.6 1.3"/>
<rect x="147.2" y="27.8" width="101.8" height="96.6" fill="none" stroke="#111" stroke-width="1.5"/>
<path d="M147.2 126H249" fill="none" stroke="#333" stroke-width="1.3" stroke-dasharray="1 1.35"/>
<path d="M183 116.7H213L234.4 106.5L239 91.5H205" fill="none" stroke="#111" stroke-width="1.6"/>
<rect x="284" y="29.2" width="101.3" height="97.7" fill="none" stroke="#111" stroke-width="1.5"/>
<path d="M284.0 126.9h-1.6M284.0 119.5h-1.0M284.0 115.2h-1.0M284.0 112.2h-1.0M284.0 109.8h-1.0M284.0 107.9h-1.0M284.0 106.3h-1.0M284.0 104.8h-1.0M284.0 103.6h-1.0M284.0 102.5h-1.6M284.0 95.1h-1.0M284.0 90.8h-1.0M284.0 87.8h-1.0M284.0 85.4h-1.0M284.0 83.5h-1.0M284.0 81.8h-1.0M284.0 80.4h-1.0M284.0 79.2h-1.0M284.0 78.1h-1.6M284.0 70.7h-1.0M284.0 66.4h-1.0M284.0 63.3h-1.0M284.0 61.0h-1.0M284.0 59.0h-1.0M284.0 57.4h-1.0M284.0 56.0h-1.0M284.0 54.7h-1.0M284.0 53.6h-1.6M284.0 46.3h-1.0M284.0 42.0h-1.0M284.0 38.9h-1.0M284.0 36.6h-1.0M284.0 34.6h-1.0M284.0 33.0h-1.0M284.0 31.6h-1.0M284.0 30.3h-1.0M284.0 29.2h-1.6" stroke="#222" stroke-width="0.7" fill="none"/>
<path d="M284.0 126.9v1.8M291.6 126.9v1.2M296.1 126.9v1.2M299.2 126.9v1.2M301.7 126.9v1.2M303.7 126.9v1.2M305.4 126.9v1.2M306.9 126.9v1.2M308.2 126.9v1.2M309.3 126.9v1.8M316.9 126.9v1.2M321.4 126.9v1.2M324.6 126.9v1.2M327.0 126.9v1.2M329.0 126.9v1.2M330.7 126.9v1.2M332.2 126.9v1.2M333.5 126.9v1.2M334.6 126.9v1.8M342.3 126.9v1.2M346.7 126.9v1.2M349.9 126.9v1.2M352.4 126.9v1.2M354.4 126.9v1.2M356.1 126.9v1.2M357.5 126.9v1.2M358.8 126.9v1.2M360.0 126.9v1.8M367.6 126.9v1.2M372.1 126.9v1.2M375.2 126.9v1.2M377.7 126.9v1.2M379.7 126.9v1.2M381.4 126.9v1.2M382.8 126.9v1.2M384.1 126.9v1.2M385.3 126.9v1.8" stroke="#222" stroke-width="0.8" fill="none"/>
<ellipse cx="352.9" cy="47.8" rx="32" ry="19.7" fill="none" stroke="#111" stroke-width="1.4"/>
<ellipse cx="353.2" cy="90.2" rx="26.3" ry="22.8" fill="none" stroke="#111" stroke-width="1.4"/>
<rect x="423" y="29.4" width="95.5" height="97.8" fill="none" stroke="#111" stroke-width="1.5"/>
<path d="M423.0 124.1h-3.0M423.0 117.0h-2.2M423.0 112.9h-2.2M423.0 110.0h-2.2M423.0 107.7h-2.2M423.0 105.8h-2.2M423.0 104.2h-2.2M423.0 102.9h-2.2M423.0 101.7h-2.2M423.0 100.6h-3.0M423.0 93.5h-2.2M423.0 89.4h-2.2M423.0 86.5h-2.2M423.0 84.2h-2.2M423.0 82.3h-2.2M423.0 80.7h-2.2M423.0 79.4h-2.2M423.0 78.2h-2.2M423.0 77.1h-3.0M423.0 70.0h-2.2M423.0 65.9h-2.2M423.0 63.0h-2.2M423.0 60.7h-2.2M423.0 58.8h-2.2M423.0 57.2h-2.2M423.0 55.9h-2.2M423.0 54.7h-2.2M423.0 53.6h-3.0M423.0 46.5h-2.2M423.0 42.4h-2.2M423.0 39.5h-2.2M423.0 37.2h-2.2M423.0 35.3h-2.2M423.0 33.7h-2.2M423.0 32.4h-2.2M423.0 31.2h-2.2M423.0 30.1h-3.0" stroke="#222" stroke-width="1.1" fill="none"/>
<path d="M423.0 127.2v2.0M430.2 127.2v1.4M434.4 127.2v1.4M437.4 127.2v1.4M439.7 127.2v1.4M441.6 127.2v1.4M443.2 127.2v1.4M444.6 127.2v1.4M445.8 127.2v1.4M446.9 127.2v2.0M454.1 127.2v1.4M458.3 127.2v1.4M461.2 127.2v1.4M463.6 127.2v1.4M465.5 127.2v1.4M467.1 127.2v1.4M468.4 127.2v1.4M469.7 127.2v1.4M470.8 127.2v2.0M477.9 127.2v1.4M482.1 127.2v1.4M485.1 127.2v1.4M487.4 127.2v1.4M489.3 127.2v1.4M490.9 127.2v1.4M492.3 127.2v1.4M493.5 127.2v1.4M494.6 127.2v2.0M501.8 127.2v1.4M506.0 127.2v1.4M509.0 127.2v1.4M511.3 127.2v1.4M513.2 127.2v1.4M514.8 127.2v1.4M516.2 127.2v1.4M517.4 127.2v1.4M518.5 127.2v2.0" stroke="#222" stroke-width="0.8" fill="none"/>
<ellipse cx="467.7" cy="55.7" rx="29.7" ry="23.5" fill="none" stroke="#111" stroke-width="1.4"/>
<ellipse cx="496.7" cy="100.1" rx="19.8" ry="26.3" fill="none" stroke="#111" stroke-width="1.4"/>
<path d="M110.0 335.9V338.8" stroke="#1a1a1a" stroke-width="1.15" fill="none"/>
<path d="M107.1 335.9H112.9" stroke="#111" stroke-width="1.3" fill="none"/>
<path d="M128.8 345.5V352.6" stroke="#1a1a1a" stroke-width="1.15" fill="none"/>
<path d="M125.9 345.5H131.7" stroke="#111" stroke-width="1.3" fill="none"/>
<path d="M174.0 243.9V256.9" stroke="#1a1a1a" stroke-width="1.15" fill="none"/>
<path d="M171.1 243.9H176.9" stroke="#111" stroke-width="1.3" fill="none"/>
<path d="M191.8 293.1V303.6" stroke="#1a1a1a" stroke-width="1.15" fill="none"/>
<path d="M188.9 293.1H194.7" stroke="#111" stroke-width="1.3" fill="none"/>
<rect x="101.25" y="339.30" width="17.50" height="30.10" fill="#000" stroke="#111" stroke-width="1.1"/>
<rect x="119.65" y="353.10" width="16.80" height="16.30" fill="#fff" stroke="#111" stroke-width="1.1"/>
<rect x="165.05" y="257.40" width="17.80" height="112.00" fill="#000" stroke="#111" stroke-width="1.1"/>
<rect x="183.75" y="304.10" width="17.30" height="65.30" fill="#fff" stroke="#111" stroke-width="1.1"/>
<path d="M87.3 232.3V369.4" stroke="#1a1a1a" stroke-width="1.4" fill="none"/>
<path d="M86.6 369.4H214.0" stroke="#222" stroke-width="1.3" fill="none"/>
<path d="M84.9 369.4H87.3" stroke="#1a1a1a" stroke-width="0.9"/>
<text x="77.3" y="371.8" text-anchor="end" font-family="'Liberation Sans', Arial, sans-serif" font-weight="bold" font-size="6.8" fill="#111">0</text>
<path d="M84.9 354.2H87.3" stroke="#1a1a1a" stroke-width="0.9"/>
<text x="77.3" y="356.6" text-anchor="end" font-family="'Liberation Sans', Arial, sans-serif" font-weight="bold" font-size="6.8" fill="#111">200</text>
<path d="M84.9 338.9H87.3" stroke="#1a1a1a" stroke-width="0.9"/>
<text x="77.3" y="341.4" text-anchor="end" font-family="'Liberation Sans', Arial, sans-serif" font-weight="bold" font-size="6.8" fill="#111">400</text>
<path d="M84.9 323.7H87.3" stroke="#1a1a1a" stroke-width="0.9"/>
<text x="77.3" y="326.1" text-anchor="end" font-family="'Liberation Sans', Arial, sans-serif" font-weight="bold" font-size="6.8" fill="#111">600</text>
<path d="M84.9 308.5H87.3" stroke="#1a1a1a" stroke-width="0.9"/>
<text x="77.3" y="310.9" text-anchor="end" font-family="'Liberation Sans', Arial, sans-serif" font-weight="bold" font-size="6.8" fill="#111">800</text>
<path d="M84.9 293.2H87.3" stroke="#1a1a1a" stroke-width="0.9"/>
<text x="77.3" y="295.7" text-anchor="end" font-family="'Liberation Sans', Arial, sans-serif" font-weight="bold" font-size="6.8" fill="#111">1000</text>
<path d="M84.9 278.0H87.3" stroke="#1a1a1a" stroke-width="0.9"/>
<text x="77.3" y="280.4" text-anchor="end" font-family="'Liberation Sans', Arial, sans-serif" font-weight="bold" font-size="6.8" fill="#111">1200</text>
<path d="M84.9 262.8H87.3" stroke="#1a1a1a" stroke-width="0.9"/>
<text x="77.3" y="265.2" text-anchor="end" font-family="'Liberation Sans', Arial, sans-serif" font-weight="bold" font-size="6.8" fill="#111">1400</text>
<path d="M84.9 247.5H87.3" stroke="#1a1a1a" stroke-width="0.9"/>
<text x="77.3" y="250.0" text-anchor="end" font-family="'Liberation Sans', Arial, sans-serif" font-weight="bold" font-size="6.8" fill="#111">1600</text>
<path d="M84.9 232.3H87.3" stroke="#1a1a1a" stroke-width="0.9"/>
<text x="77.3" y="234.7" text-anchor="end" font-family="'Liberation Sans', Arial, sans-serif" font-weight="bold" font-size="6.8" fill="#111">1800</text>
<text x="96.7" y="246.2" font-family="'Liberation Serif', 'Times New Roman', serif" font-weight="bold" font-size="13.1" fill="#000">HLA-DR</text>
<text x="119" y="384.0" text-anchor="middle" font-family="'Liberation Sans', Arial, sans-serif" font-weight="bold" font-size="15" fill="#000">-</text>
<text x="182.25" y="382.7" text-anchor="middle" font-family="'Liberation Sans', Arial, sans-serif" font-weight="bold" font-size="12" fill="#000">CpG</text>
<path d="M256.6 352.5H262.4" stroke="#111" stroke-width="1.3" fill="none"/>
<path d="M277.0 352.0V353.1" stroke="#1a1a1a" stroke-width="1.15" fill="none"/>
<path d="M274.1 352.0H279.9" stroke="#111" stroke-width="1.3" fill="none"/>
<path d="M319.6 253.0V260.7" stroke="#1a1a1a" stroke-width="1.15" fill="none"/>
<path d="M316.7 253.0H322.5" stroke="#111" stroke-width="1.3" fill="none"/>
<path d="M336.5 327.6V336.4" stroke="#1a1a1a" stroke-width="1.15" fill="none"/>
<path d="M333.6 327.6H339.4" stroke="#111" stroke-width="1.3" fill="none"/>
<rect x="251.25" y="353.60" width="16.40" height="13.30" fill="#000" stroke="#111" stroke-width="1.1"/>
<rect x="268.55" y="353.60" width="16.80" height="13.30" fill="#fff" stroke="#111" stroke-width="1.1"/>
<rect x="310.85" y="261.20" width="16.90" height="105.70" fill="#000" stroke="#111" stroke-width="1.1"/>
<rect x="328.65" y="336.90" width="15.80" height="30.00" fill="#fff" stroke="#111" stroke-width="1.1"/>
<path d="M238.4 235.2V366.9" stroke="#3a3a3a" stroke-width="1.4" fill="none"/>
<path d="M237.7 366.9H357.4" stroke="#222" stroke-width="1.3" fill="none"/>
<path d="M236.0 366.9H238.4" stroke="#3a3a3a" stroke-width="0.9"/>
<text x="231.5" y="369.5" text-anchor="end" font-family="'Liberation Sans', Arial, sans-serif" font-weight="bold" font-size="7.4" fill="#111">0</text>
<path d="M236.0 344.9H238.4" stroke="#3a3a3a" stroke-width="0.9"/>
<text x="231.5" y="347.6" text-anchor="end" font-family="'Liberation Sans', Arial, sans-serif" font-weight="bold" font-size="7.4" fill="#111">5</text>
<path d="M236.0 323.0H238.4" stroke="#3a3a3a" stroke-width="0.9"/>
<text x="231.5" y="325.6" text-anchor="end" font-family="'Liberation Sans', Arial, sans-serif" font-weight="bold" font-size="7.4" fill="#111">10</text>
<path d="M236.0 301.0H238.4" stroke="#3a3a3a" stroke-width="0.9"/>
<text x="231.5" y="303.7" text-anchor="end" font-family="'Liberation Sans', Arial, sans-serif" font-weight="bold" font-size="7.4" fill="#111">15</text>
<path d="M236.0 279.1H238.4" stroke="#3a3a3a" stroke-width="0.9"/>
<text x="231.5" y="281.7" text-anchor="end" font-family="'Liberation Sans', Arial, sans-serif" font-weight="bold" font-size="7.4" fill="#111">20</text>
<path d="M236.0 257.1H238.4" stroke="#3a3a3a" stroke-width="0.9"/>
<text x="231.5" y="259.8" text-anchor="end" font-family="'Liberation Sans', Arial, sans-serif" font-weight="bold" font-size="7.4" fill="#111">25</text>
<path d="M236.0 235.2H238.4" stroke="#3a3a3a" stroke-width="0.9"/>
<text x="231.5" y="237.8" text-anchor="end" font-family="'Liberation Sans', Arial, sans-serif" font-weight="bold" font-size="7.4" fill="#111">30</text>
<text x="247.8" y="249.3" font-family="'Liberation Serif', 'Times New Roman', serif" font-weight="bold" font-size="13.1" fill="#000">CD80</text>
<text x="330.8" y="326.3" font-family="'Liberation Sans', Arial, sans-serif" font-weight="bold" font-size="12" letter-spacing="0.5" fill="#000" stroke="#000" stroke-width="0.6" stroke-linejoin="round">***</text>
<text x="271.8" y="382.0" text-anchor="middle" font-family="'Liberation Sans', Arial, sans-serif" font-weight="bold" font-size="15" fill="#000">-</text>
<text x="328.5" y="380.8" text-anchor="middle" font-family="'Liberation Sans', Arial, sans-serif" font-weight="bold" font-size="12" fill="#000">CpG</text>
<path d="M416.0 352.5V353.4" stroke="#1a1a1a" stroke-width="1.15" fill="none"/>
<path d="M413.1 352.5H418.9" stroke="#111" stroke-width="1.3" fill="none"/>
<path d="M434.0 352.5V353.4" stroke="#1a1a1a" stroke-width="1.15" fill="none"/>
<path d="M431.1 352.5H436.9" stroke="#111" stroke-width="1.3" fill="none"/>
<path d="M476.4 247.5V264.8" stroke="#1a1a1a" stroke-width="1.15" fill="none"/>
<path d="M473.5 247.5H479.3" stroke="#111" stroke-width="1.3" fill="none"/>
<path d="M493.3 310.0V327.7" stroke="#1a1a1a" stroke-width="1.15" fill="none"/>
<path d="M490.4 310.0H496.2" stroke="#111" stroke-width="1.3" fill="none"/>
<rect x="407.55" y="353.90" width="17.50" height="10.30" fill="#000" stroke="#111" stroke-width="1.1"/>
<rect x="425.95" y="353.90" width="16.40" height="10.30" fill="#fff" stroke="#111" stroke-width="1.1"/>
<rect x="468.75" y="265.30" width="16.30" height="98.90" fill="#000" stroke="#111" stroke-width="1.1"/>
<rect x="485.95" y="328.20" width="15.90" height="36.00" fill="#fff" stroke="#111" stroke-width="1.1"/>
<path d="M394.9 235.5V364.2" stroke="#7a7a7a" stroke-width="1.4" fill="none"/>
<path d="M394.2 364.2H515.0" stroke="#222" stroke-width="1.3" fill="none"/>
<path d="M392.5 364.2H394.9" stroke="#7a7a7a" stroke-width="0.9"/>
<text x="387.9" y="366.7" text-anchor="end" font-family="'Liberation Sans', Arial, sans-serif" font-weight="bold" font-size="7.1" fill="#111">0</text>
<path d="M392.5 345.8H394.9" stroke="#7a7a7a" stroke-width="0.9"/>
<text x="387.9" y="348.4" text-anchor="end" font-family="'Liberation Sans', Arial, sans-serif" font-weight="bold" font-size="7.1" fill="#111">5</text>
<path d="M392.5 327.4H394.9" stroke="#7a7a7a" stroke-width="0.9"/>
<text x="387.9" y="330.0" text-anchor="end" font-family="'Liberation Sans', Arial, sans-serif" font-weight="bold" font-size="7.1" fill="#111">10</text>
<path d="M392.5 309.0H394.9" stroke="#7a7a7a" stroke-width="0.9"/>
<text x="387.9" y="311.6" text-anchor="end" font-family="'Liberation Sans', Arial, sans-serif" font-weight="bold" font-size="7.1" fill="#111">15</text>
<path d="M392.5 290.7H394.9" stroke="#7a7a7a" stroke-width="0.9"/>
<text x="387.9" y="293.2" text-anchor="end" font-family="'Liberation Sans', Arial, sans-serif" font-weight="bold" font-size="7.1" fill="#111">20</text>
<path d="M392.5 272.3H394.9" stroke="#7a7a7a" stroke-width="0.9"/>
<text x="387.9" y="274.8" text-anchor="end" font-family="'Liberation Sans', Arial, sans-serif" font-weight="bold" font-size="7.1" fill="#111">25</text>
<path d="M392.5 253.9H394.9" stroke="#7a7a7a" stroke-width="0.9"/>
<text x="387.9" y="256.4" text-anchor="end" font-family="'Liberation Sans', Arial, sans-serif" font-weight="bold" font-size="7.1" fill="#111">30</text>
<path d="M392.5 235.5H394.9" stroke="#7a7a7a" stroke-width="0.9"/>
<text x="387.9" y="238.0" text-anchor="end" font-family="'Liberation Sans', Arial, sans-serif" font-weight="bold" font-size="7.1" fill="#111">35</text>
<text x="406.2" y="249.9" font-family="'Liberation Serif', 'Times New Roman', serif" font-weight="bold" font-size="13.1" fill="#000">CD83</text>
<text x="487.2" y="310.1" font-family="'Liberation Sans', Arial, sans-serif" font-weight="bold" font-size="12" letter-spacing="0.5" fill="#000" stroke="#000" stroke-width="0.6" stroke-linejoin="round">**</text>
<text x="428.8" y="381.0" text-anchor="middle" font-family="'Liberation Sans', Arial, sans-serif" font-weight="bold" font-size="15" fill="#000">-</text>
<text x="488.4" y="379.7" text-anchor="middle" font-family="'Liberation Sans', Arial, sans-serif" font-weight="bold" font-size="12" fill="#000">CpG</text>
<path d="M110.0 536.0V536.9" stroke="#1a1a1a" stroke-width="1.15" fill="none"/>
<path d="M107.1 536.0H112.9" stroke="#111" stroke-width="1.3" fill="none"/>
<path d="M126.1 538.0H131.9" stroke="#111" stroke-width="1.3" fill="none"/>
<path d="M175.2 429.2V444.3" stroke="#1a1a1a" stroke-width="1.15" fill="none"/>
<path d="M172.3 429.2H178.1" stroke="#111" stroke-width="1.3" fill="none"/>
<path d="M193.8 492.9V502.5" stroke="#1a1a1a" stroke-width="1.15" fill="none"/>
<path d="M190.9 492.9H196.7" stroke="#111" stroke-width="1.3" fill="none"/>
<rect x="100.75" y="537.40" width="18.50" height="6.40" fill="#000" stroke="#111" stroke-width="1.1"/>
<rect x="120.15" y="538.70" width="17.90" height="5.10" fill="#fff" stroke="#111" stroke-width="1.1"/>
<rect x="166.55" y="444.80" width="17.70" height="99.00" fill="#000" stroke="#111" stroke-width="1.1"/>
<rect x="185.15" y="503.00" width="17.50" height="40.80" fill="#fff" stroke="#111" stroke-width="1.1"/>
<path d="M87.3 407.0V543.8" stroke="#3a3a3a" stroke-width="1.4" fill="none"/>
<path d="M86.6 543.8H216.8" stroke="#222" stroke-width="1.3" fill="none"/>
<path d="M84.9 543.8H87.3" stroke="#3a3a3a" stroke-width="0.9"/>
<text x="78.7" y="546.1" text-anchor="end" font-family="'Liberation Sans', Arial, sans-serif" font-weight="bold" font-size="6.4" fill="#111">0</text>
<path d="M84.9 521.0H87.3" stroke="#3a3a3a" stroke-width="0.9"/>
<text x="78.7" y="523.3" text-anchor="end" font-family="'Liberation Sans', Arial, sans-serif" font-weight="bold" font-size="6.4" fill="#111">20</text>
<path d="M84.9 498.2H87.3" stroke="#3a3a3a" stroke-width="0.9"/>
<text x="78.7" y="500.5" text-anchor="end" font-family="'Liberation Sans', Arial, sans-serif" font-weight="bold" font-size="6.4" fill="#111">40</text>
<path d="M84.9 475.4H87.3" stroke="#3a3a3a" stroke-width="0.9"/>
<text x="78.7" y="477.7" text-anchor="end" font-family="'Liberation Sans', Arial, sans-serif" font-weight="bold" font-size="6.4" fill="#111">60</text>
<path d="M84.9 452.6H87.3" stroke="#3a3a3a" stroke-width="0.9"/>
<text x="78.7" y="454.9" text-anchor="end" font-family="'Liberation Sans', Arial, sans-serif" font-weight="bold" font-size="6.4" fill="#111">80</text>
<path d="M84.9 429.8H87.3" stroke="#3a3a3a" stroke-width="0.9"/>
<text x="78.7" y="432.1" text-anchor="end" font-family="'Liberation Sans', Arial, sans-serif" font-weight="bold" font-size="6.4" fill="#111">100</text>
<path d="M84.9 407.0H87.3" stroke="#3a3a3a" stroke-width="0.9"/>
<text x="78.7" y="413.1" text-anchor="end" font-family="'Liberation Sans', Arial, sans-serif" font-weight="bold" font-size="6.4" fill="#111">120</text>
<text x="95.7" y="418.5" font-family="'Liberation Serif', 'Times New Roman', serif" font-weight="bold" font-size="13.1" fill="#000">CD86</text>
<text x="189.5" y="491.9" font-family="'Liberation Sans', Arial, sans-serif" font-weight="bold" font-size="12" letter-spacing="0.5" fill="#000" stroke="#000" stroke-width="0.6" stroke-linejoin="round">**</text>
<text x="115.8" y="561.3" text-anchor="middle" font-family="'Liberation Sans', Arial, sans-serif" font-weight="bold" font-size="15" fill="#000">-</text>
<text x="182.1" y="560.1" text-anchor="middle" font-family="'Liberation Sans', Arial, sans-serif" font-weight="bold" font-size="12" fill="#000">CpG</text>
<path d="M261.1 530.5H266.9" stroke="#111" stroke-width="1.3" fill="none"/>
<path d="M282.5 529.4V530.8" stroke="#1a1a1a" stroke-width="1.15" fill="none"/>
<path d="M279.6 529.4H285.4" stroke="#111" stroke-width="1.3" fill="none"/>
<path d="M328.5 422.3V435.5" stroke="#1a1a1a" stroke-width="1.15" fill="none"/>
<path d="M325.6 422.3H331.4" stroke="#111" stroke-width="1.3" fill="none"/>
<path d="M346.4 490.3V499.2" stroke="#1a1a1a" stroke-width="1.15" fill="none"/>
<path d="M343.5 490.3H349.3" stroke="#111" stroke-width="1.3" fill="none"/>
<rect x="255.45" y="531.30" width="17.60" height="13.00" fill="#000" stroke="#111" stroke-width="1.1"/>
<rect x="273.95" y="531.30" width="17.20" height="13.00" fill="#fff" stroke="#111" stroke-width="1.1"/>
<rect x="319.25" y="436.00" width="17.80" height="108.30" fill="#000" stroke="#111" stroke-width="1.1"/>
<rect x="337.95" y="499.70" width="16.90" height="44.60" fill="#fff" stroke="#111" stroke-width="1.1"/>
<path d="M241.4 408.1V544.3" stroke="#3a3a3a" stroke-width="1.4" fill="none"/>
<path d="M240.7 544.3H368.8" stroke="#222" stroke-width="1.3" fill="none"/>
<path d="M239.0 544.3H241.4" stroke="#3a3a3a" stroke-width="0.9"/>
<text x="234.9" y="546.8" text-anchor="end" font-family="'Liberation Sans', Arial, sans-serif" font-weight="bold" font-size="7.1" fill="#111">0</text>
<path d="M239.0 521.6H241.4" stroke="#3a3a3a" stroke-width="0.9"/>
<text x="234.9" y="524.1" text-anchor="end" font-family="'Liberation Sans', Arial, sans-serif" font-weight="bold" font-size="7.1" fill="#111">5</text>
<path d="M239.0 498.9H241.4" stroke="#3a3a3a" stroke-width="0.9"/>
<text x="234.9" y="501.4" text-anchor="end" font-family="'Liberation Sans', Arial, sans-serif" font-weight="bold" font-size="7.1" fill="#111">10</text>
<path d="M239.0 476.2H241.4" stroke="#3a3a3a" stroke-width="0.9"/>
<text x="234.9" y="478.7" text-anchor="end" font-family="'Liberation Sans', Arial, sans-serif" font-weight="bold" font-size="7.1" fill="#111">15</text>
<path d="M239.0 453.5H241.4" stroke="#3a3a3a" stroke-width="0.9"/>
<text x="234.9" y="456.0" text-anchor="end" font-family="'Liberation Sans', Arial, sans-serif" font-weight="bold" font-size="7.1" fill="#111">20</text>
<path d="M239.0 430.8H241.4" stroke="#3a3a3a" stroke-width="0.9"/>
<text x="234.9" y="433.3" text-anchor="end" font-family="'Liberation Sans', Arial, sans-serif" font-weight="bold" font-size="7.1" fill="#111">25</text>
<path d="M239.0 408.1H241.4" stroke="#3a3a3a" stroke-width="0.9"/>
<text x="234.9" y="410.6" text-anchor="end" font-family="'Liberation Sans', Arial, sans-serif" font-weight="bold" font-size="7.1" fill="#111">30</text>
<text x="253.8" y="418.9" font-family="'Liberation Serif', 'Times New Roman', serif" font-weight="bold" font-size="13.1" fill="#000">CD40</text>
<text x="341.9" y="489.7" font-family="'Liberation Sans', Arial, sans-serif" font-weight="bold" font-size="12" letter-spacing="0.5" fill="#000" stroke="#000" stroke-width="0.6" stroke-linejoin="round">**</text>
<text x="271" y="557.8" text-anchor="middle" font-family="'Liberation Sans', Arial, sans-serif" font-weight="bold" font-size="15" fill="#000">-</text>
<text x="337.8" y="556.4" text-anchor="middle" font-family="'Liberation Sans', Arial, sans-serif" font-weight="bold" font-size="12" fill="#000">CpG</text>
<path d="M416.5 519.0V520.0" stroke="#1a1a1a" stroke-width="1.15" fill="none"/>
<path d="M413.6 519.0H419.4" stroke="#111" stroke-width="1.3" fill="none"/>
<path d="M434.0 529.0V531.2" stroke="#1a1a1a" stroke-width="1.15" fill="none"/>
<path d="M431.1 529.0H436.9" stroke="#111" stroke-width="1.3" fill="none"/>
<path d="M478.8 424.2V439.4" stroke="#1a1a1a" stroke-width="1.15" fill="none"/>
<path d="M475.9 424.2H481.7" stroke="#111" stroke-width="1.3" fill="none"/>
<path d="M495.3 443.4V457.5" stroke="#1a1a1a" stroke-width="1.15" fill="none"/>
<path d="M492.4 443.4H498.2" stroke="#111" stroke-width="1.3" fill="none"/>
<rect x="407.85" y="520.50" width="17.40" height="22.90" fill="#000" stroke="#111" stroke-width="1.1"/>
<rect x="426.15" y="531.70" width="17.20" height="11.70" fill="#fff" stroke="#111" stroke-width="1.1"/>
<rect x="469.25" y="439.90" width="17.50" height="103.50" fill="#000" stroke="#111" stroke-width="1.1"/>
<rect x="487.65" y="458.00" width="15.80" height="85.40" fill="#fff" stroke="#111" stroke-width="1.1"/>
<path d="M394.9 406.6V543.4" stroke="#7a7a7a" stroke-width="1.4" fill="none"/>
<path d="M394.2 543.4H516.3" stroke="#222" stroke-width="1.3" fill="none"/>
<path d="M392.5 543.4H394.9" stroke="#7a7a7a" stroke-width="0.9"/>
<text x="385.6" y="545.7" text-anchor="end" font-family="'Liberation Sans', Arial, sans-serif" font-weight="bold" font-size="6.4" fill="#111">0</text>
<path d="M392.5 526.3H394.9" stroke="#7a7a7a" stroke-width="0.9"/>
<text x="385.6" y="528.6" text-anchor="end" font-family="'Liberation Sans', Arial, sans-serif" font-weight="bold" font-size="6.4" fill="#111">50</text>
<path d="M392.5 509.2H394.9" stroke="#7a7a7a" stroke-width="0.9"/>
<text x="385.6" y="511.5" text-anchor="end" font-family="'Liberation Sans', Arial, sans-serif" font-weight="bold" font-size="6.4" fill="#111">100</text>
<path d="M392.5 492.1H394.9" stroke="#7a7a7a" stroke-width="0.9"/>
<text x="385.6" y="494.4" text-anchor="end" font-family="'Liberation Sans', Arial, sans-serif" font-weight="bold" font-size="6.4" fill="#111">150</text>
<path d="M392.5 475.0H394.9" stroke="#7a7a7a" stroke-width="0.9"/>
<text x="385.6" y="477.3" text-anchor="end" font-family="'Liberation Sans', Arial, sans-serif" font-weight="bold" font-size="6.4" fill="#111">200</text>
<path d="M392.5 457.9H394.9" stroke="#7a7a7a" stroke-width="0.9"/>
<text x="385.6" y="460.2" text-anchor="end" font-family="'Liberation Sans', Arial, sans-serif" font-weight="bold" font-size="6.4" fill="#111">250</text>
<path d="M392.5 440.8H394.9" stroke="#7a7a7a" stroke-width="0.9"/>
<text x="385.6" y="443.1" text-anchor="end" font-family="'Liberation Sans', Arial, sans-serif" font-weight="bold" font-size="6.4" fill="#111">300</text>
<path d="M392.5 423.7H394.9" stroke="#7a7a7a" stroke-width="0.9"/>
<text x="385.6" y="426.0" text-anchor="end" font-family="'Liberation Sans', Arial, sans-serif" font-weight="bold" font-size="6.4" fill="#111">350</text>
<path d="M392.5 406.6H394.9" stroke="#7a7a7a" stroke-width="0.9"/>
<text x="385.6" y="408.9" text-anchor="end" font-family="'Liberation Sans', Arial, sans-serif" font-weight="bold" font-size="6.4" fill="#111">400</text>
<text x="406.2" y="417.3" font-family="'Liberation Serif', 'Times New Roman', serif" font-weight="bold" font-size="13.1" fill="#000">CD54</text>
<text x="421.6" y="557.9" text-anchor="middle" font-family="'Liberation Sans', Arial, sans-serif" font-weight="bold" font-size="15" fill="#000">-</text>
<text x="484.9" y="556.0" text-anchor="middle" font-family="'Liberation Sans', Arial, sans-serif" font-weight="bold" font-size="12" fill="#000">CpG</text>
<text x="0.3" y="18.6" font-family="'Liberation Sans', Arial, sans-serif" font-weight="bold" font-size="25" stroke="#000" stroke-width="0.7">A</text>
<text x="-0.7" y="224.1" font-family="'Liberation Sans', Arial, sans-serif" font-weight="bold" font-size="25" stroke="#000" stroke-width="0.7">B</text>
<text x="27.6" y="44.5" font-family="'Liberation Serif', 'Times New Roman', serif" font-weight="bold" font-size="17.2">R1</text>
<text x="228.4" y="123.6" font-family="'Liberation Serif', 'Times New Roman', serif" font-weight="bold" font-size="17.2">R2</text>
<text x="404.6" y="15.8" text-anchor="middle" font-family="'Liberation Serif', 'Times New Roman', serif" font-weight="bold" font-size="17.5">R1 and R2</text>
<text x="74.85" y="152.1" text-anchor="middle" font-family="'Liberation Serif', 'Times New Roman', serif" font-size="15.4" stroke="#000" stroke-width="0.35">Cocktail FITC</text>
<text x="198.75" y="151" text-anchor="middle" font-family="'Liberation Serif', 'Times New Roman', serif" font-size="15.8" stroke="#000" stroke-width="0.35">FSC</text>
<text x="334.5" y="150.8" text-anchor="middle" font-family="'Liberation Serif', 'Times New Roman', serif" font-size="15.4" letter-spacing="0.6" stroke="#000" stroke-width="0.35">HLA-DR</text>
<text x="465.4" y="150.8" text-anchor="middle" font-family="'Liberation Serif', 'Times New Roman', serif" font-size="15.2" stroke="#000" stroke-width="0.35">CD123</text>
<text transform="translate(11.9 74.65) rotate(-90)" text-anchor="middle" font-family="'Liberation Serif', 'Times New Roman', serif" font-weight="bold" font-size="14.5" letter-spacing="0">HLA-DR</text>
<text transform="translate(139.6 76.2) rotate(-90)" text-anchor="middle" font-family="'Liberation Serif', 'Times New Roman', serif" stroke="#000" stroke-width="0.35" font-size="15" letter-spacing="0">SSC</text>
<text transform="translate(277.0 73.95) rotate(-90)" text-anchor="middle" font-family="'Liberation Serif', 'Times New Roman', serif" stroke="#000" stroke-width="0.35" font-size="15.8" letter-spacing="0">CD11c</text>
<text transform="translate(414.1 74.95) rotate(-90)" text-anchor="middle" font-family="'Liberation Serif', 'Times New Roman', serif" stroke="#000" stroke-width="0.35" font-size="15.6" letter-spacing="0">CD11c</text>
<text transform="translate(54.8 310.45) rotate(-90)" text-anchor="middle" font-family="'Liberation Serif', 'Times New Roman', serif" stroke="#000" stroke-width="0.35" font-size="15.6" letter-spacing="0">Mean MFI</text>
<text transform="translate(59.7 472.7) rotate(-90)" text-anchor="middle" font-family="'Liberation Serif', 'Times New Roman', serif" stroke="#000" stroke-width="0.35" font-size="15.6" letter-spacing="0">Mean MFI</text>
</svg>
</body></html>
